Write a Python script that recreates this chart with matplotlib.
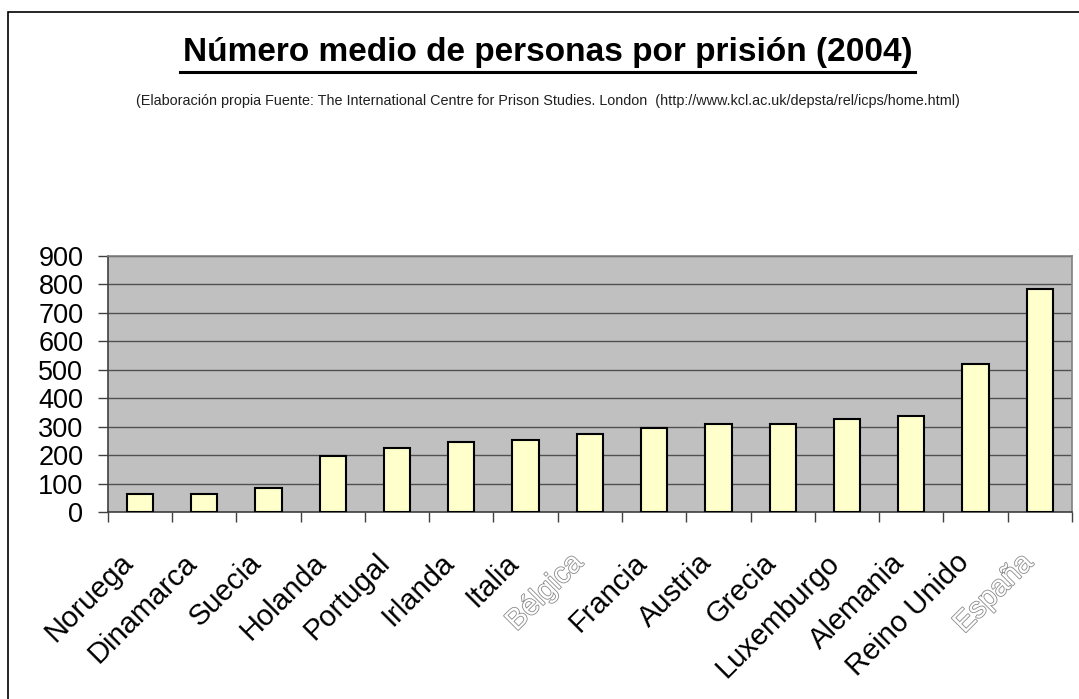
import numpy as np
import matplotlib.pyplot as plt
import matplotlib.patheffects as pe
from matplotlib.patches import Rectangle

paises = ["Noruega", "Dinamarca", "Suecia", "Holanda", "Portugal", "Irlanda",
          "Italia", "Bélgica", "Francia", "Austria", "Grecia", "Luxemburgo",
          "Alemania", "Reino Unido", "España"]
personas = [63, 63, 85, 197, 225, 246, 252, 273, 294, 309, 309, 328, 337, 519, 785]
yticks = [0, 100, 200, 300, 400, 500, 600, 700, 800, 900]
hueco = ["Bélgica", "España"]  # labels drawn as outline only

plt.rcParams['font.family'] = ['Liberation Sans', 'DejaVu Sans']

fig = plt.figure(figsize=(10.79, 6.99), dpi=100)
fig.patches.append(Rectangle((8 / 1079, -0.1), 1.2, 1 - 12 / 699 + 0.1,
                             transform=fig.transFigure, fill=False,
                             edgecolor='black', linewidth=1.2))

ax = fig.add_axes([107.7 / 1079, 1 - 512 / 699, (1072 - 107.7) / 1079, (512 - 256) / 699])
ax.set_facecolor('#C0C0C0')

x = np.arange(len(paises))
ax.bar(x, personas, width=0.41, color='#FFFFCC', edgecolor='black', linewidth=1.5, zorder=3)

ax.set_xlim(-0.5, len(paises) - 0.5)
ax.set_ylim(0, 900)
ax.set_yticks(yticks)
ax.set_yticklabels([str(v) for v in yticks], fontsize=19.5)
ax.yaxis.grid(True, color='#505050', linewidth=1.0, zorder=1)
ax.set_axisbelow(True)

# category boundary ticks
ax.set_xticks(np.arange(-0.5, len(paises) + 0.5, 1.0))
ax.set_xticklabels([])
ax.tick_params(axis='x', direction='out', length=7, width=1, color='#404040')
ax.tick_params(axis='y', direction='out', length=7, width=1, color='#404040', pad=10.5)

for sp in ['top', 'right']:
    ax.spines[sp].set_color('#808080')
    ax.spines[sp].set_linewidth(1.2)
ax.spines['left'].set_color('#404040')
ax.spines['bottom'].set_color('#404040')
ax.spines['left'].set_linewidth(1.2)
ax.spines['bottom'].set_linewidth(1.2)

for i, p in enumerate(paises):
    if p in hueco:
        ax.text(i - 0.33, -128, p, rotation=45, ha='right', va='top', rotation_mode='anchor',
                fontsize=21, color='white',
                path_effects=[pe.withStroke(linewidth=1.2, foreground='#8a8a8a')])
    else:
        ax.text(i - 0.33, -128, p, rotation=45, ha='right', va='top', rotation_mode='anchor',
                fontsize=21, color='black')

fig.text(0.508, 1 - 53 / 699, "Número medio de personas por prisión (2004)",
         ha='center', va='center', fontsize=24, fontweight='bold')
# underline
fig.add_artist(plt.Line2D([180 / 1079, 915 / 1079], [1 - 72 / 699, 1 - 72 / 699],
                          color='black', linewidth=2.2))

fig.text(0.508, 1 - 101 / 699,
         "(Elaboración propia Fuente: The International Centre for Prison Studies. London  (http://www.kcl.ac.uk/depsta/rel/icps/home.html)",
         ha='center', va='center', fontsize=10.4, color='#202020')

fig.savefig('out.png', dpi=100)
